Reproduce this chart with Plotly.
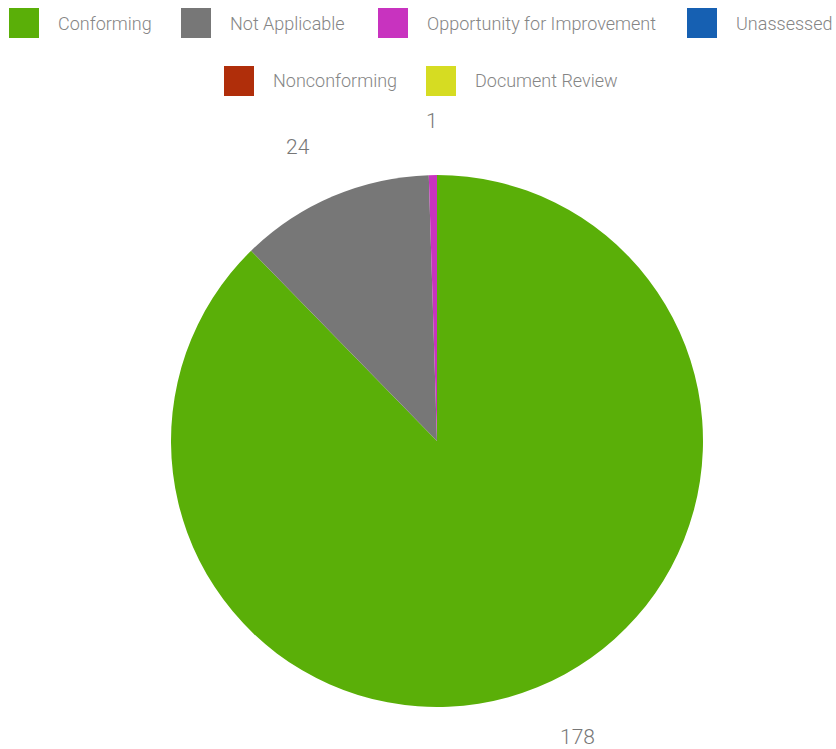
import math
import plotly.graph_objects as go

categories = ["Conforming", "Not Applicable", "Opportunity for Improvement",
              "Unassessed", "Nonconforming", "Document Review"]
values = [178, 24, 1, 0, 0, 0]
colors = ["#5aaf08", "#777777", "#c833bf", "#1660b2", "#b02e0a", "#d6dc22"]

W, H = 836, 749
cx, cy, R = 437, 441, 266  # pixel centre / radius of the pie
LABEL_R = 320

fig = go.Figure()
fig.add_trace(go.Pie(
    labels=categories, values=values, sort=False, direction="clockwise",
    rotation=0, marker=dict(colors=colors, line=dict(width=0)),
    textinfo="none", hoverinfo="label+value", showlegend=False,
    domain=dict(x=[(cx - R) / W, (cx + R) / W],
                y=[(H - cy - R) / H, (H - cy + R) / H]),
))

annotations = []
shapes = []
total = sum(values)
cum = 0
for v in values:
    if v > 0:
        mid = (cum + v / 2) / total * 2 * math.pi
        s = math.sin(mid)
        px = cx + LABEL_R * s
        py = cy - LABEL_R * math.cos(mid)
        anchor = "center" if abs(s) < 0.1 else ("right" if s < 0 else "left")
        annotations.append(dict(
            x=px / W, y=1 - py / H, xref="paper", yref="paper",
            text=str(v), showarrow=False,
            xanchor=anchor, yanchor="middle",
            font=dict(size=21, color="#777777", family="Roboto, Arial, sans-serif",
                      weight=300)))
    cum += v

# manual legend (square swatches like the reference)
legend_pos = [(9, 23), (181, 23), (378, 23), (687, 23), (224, 81), (426, 81)]
SW = 30
for (lx, ly), name, col in zip(legend_pos, categories, colors):
    shapes.append(dict(type="rect", xref="paper", yref="paper",
                       x0=lx / W, x1=(lx + SW) / W,
                       y0=1 - (ly + SW / 2) / H, y1=1 - (ly - SW / 2) / H,
                       fillcolor=col, line=dict(width=0)))
    annotations.append(dict(
        x=(lx + SW + 17) / W, y=1 - ly / H, xref="paper", yref="paper",
        text=name, showarrow=False, xanchor="left", yanchor="middle",
        font=dict(size=18, color="#858585", family="Roboto, Arial, sans-serif",
                  weight=300)))

fig.update_layout(
    width=W, height=H, margin=dict(l=0, r=0, t=0, b=0),
    paper_bgcolor="white", plot_bgcolor="white",
    annotations=annotations, shapes=shapes,
)

fig.write_html("out.html")
